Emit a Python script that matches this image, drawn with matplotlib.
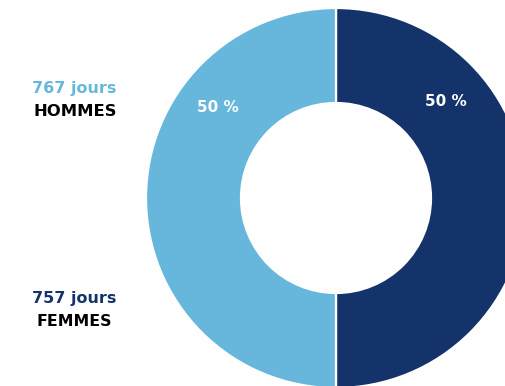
import matplotlib
matplotlib.use("Agg")
import matplotlib.pyplot as plt

# Durée moyenne par sexe
groups = ["FEMMES", "HOMMES"]
days = [757, 767]
shares = [50, 50]
colors = ["#14336b", "#67b7dc"]

W, H = 506, 386
fig = plt.figure(figsize=(W / 100, H / 100), dpi=100)
ax = fig.add_axes([0, 0, 1, 1])

cx, cy = 336, H - 198
r_out, r_in = 190, 95

ax.pie(
    shares, colors=colors, startangle=90, counterclock=False,
    center=(cx, cy), radius=r_out, frame=True,
    wedgeprops=dict(width=r_out - r_in, edgecolor="white", linewidth=1.6),
)
ax.set_xlim(0, W)
ax.set_ylim(0, H)
ax.set_aspect("equal")
ax.axis("off")

font = "DejaVu Sans"
# Percentages inside the ring
ax.text(446, H - 101, f"{shares[0]} %", color="white", fontsize=11,
        fontweight="bold", family=font, ha="center", va="center")
ax.text(218, H - 108, f"{shares[1]} %", color="white", fontsize=11,
        fontweight="bold", family=font, ha="center", va="center")

# Side labels
ax.text(74, H - 89, f"{days[1]} jours", color=colors[1], fontsize=11.5,
        fontweight="bold", family=font, ha="center", va="center")
ax.text(75, H - 111, groups[1], color="black", fontsize=11.8,
        fontweight="bold", family=font, ha="center", va="center")
ax.text(74, H - 298, f"{days[0]} jours", color=colors[0], fontsize=11.5,
        fontweight="bold", family=font, ha="center", va="center")
ax.text(74.5, H - 322, groups[0], color="black", fontsize=11.3,
        fontweight="bold", family=font, ha="center", va="center")

fig.savefig("out.png", dpi=100)
